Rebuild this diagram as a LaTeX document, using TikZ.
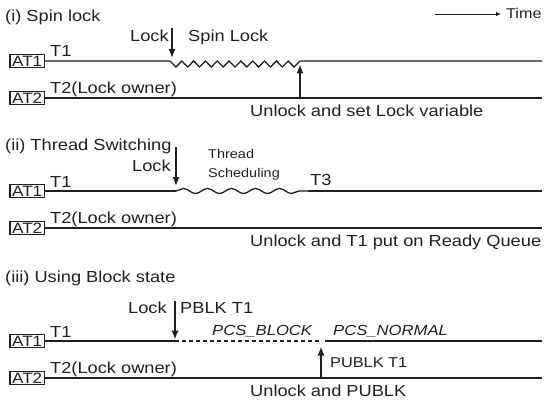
\documentclass[tikz,border=0pt]{standalone}
\usepackage{fontspec}
\setmainfont{Liberation Sans}[FakeStretch=1.14]
\usepackage{tikz}
\usetikzlibrary{arrows.meta, decorations.pathmorphing, positioning}
\definecolor{inkblack}{HTML}{231F20}

\begin{document}
\begin{tikzpicture}[x=1pt,y=-1pt,font=\fontsize{16}{19}\selectfont,color=inkblack,
    tbox/.style={draw,line width=1.1pt,anchor=east,inner xsep=2.2pt,inner ysep=1pt,
      text height=10.8pt,text depth=0pt,font=\fontsize{15}{17}\selectfont},
    tline/.style={line width=1.3pt},
    evarrow/.style={-{Latex[length=9pt,width=7pt]},line width=1.3pt},
    lbl/.style={anchor=base west,inner sep=0pt}]
  \useasboundingbox (0,0) rectangle (544,404);

  % time axis
  \coordinate (t0) at (435,14);
  \coordinate (t1) at (501,14);
  \draw[-{Latex[length=5pt,width=4.5pt]},line width=0.8pt] (t0) -- (t1);
  \node[lbl,font=\fontsize{14.2}{17}\selectfont] (time) at (506,18.5) {Time};

  % the two threads of each case
  \foreach \s/\ya/\yb in {i/61/98,ii/191/228,iii/341/378}{
    \node[tbox] (atA\s) at (45,\ya) {AT1};
    \node[tbox] (atB\s) at (45,\yb) {AT2};
    \node[lbl] (tA\s) at (50,\ya-4) {T1};
    \node[lbl] (tB\s) at (50,\yb-5) {T2(Lock owner)};
    \coordinate (endA\s) at (542,\ya);
    \coordinate (endB\s) at (542,\yb);
    \draw[tline] (atB\s.east) -- (endB\s);
  }

  % (i) spin lock
  \node[lbl] (ttli) at (5,22) {(i) Spin lock};
  \coordinate (lki) at (170,61);
  \coordinate (lkitop) at (172,28);
  \coordinate (uli) at (300,61);
  \coordinate (ulibot) at (300,98);
  \draw[tline] (atAi.east) -- (lki)
    \foreach \k in {1,...,11}{ -- ++(5.909,6) -- ++(5.909,-6)} -- (endAi);
  \draw[evarrow,shorten >=3pt] (lkitop) -- (lkitop|-lki);
  \draw[evarrow,shorten >=3.5pt] (ulibot) -- (uli);
  \node[lbl] (lkti) at (130,42) {Lock};
  \node[lbl] (spin) at (188,42) {Spin Lock};
  \node[lbl] (unli) at (250,116.5) {Unlock and set Lock variable};

  % (ii) thread switching
  \node[lbl] (ttlii) at (5,150) {(ii) Thread Switching};
  \coordinate (lkii) at (176,191);
  \coordinate (lkiitop) at (176,147);
  \coordinate (swii) at (308,191);
  \draw[tline] (atAii.east) -- (lkii);
  \draw[tline,decorate,decoration={snake,amplitude=2.5pt,segment length=24pt}] (lkii) -- (swii);
  \draw[line width=2.8pt] (swii) -- (endAii);
  \draw[evarrow,shorten >=5pt] (lkiitop) -- (lkii);
  \node[lbl] (lktii) at (132,171) {Lock};
  \node[lbl,font=\fontsize{12.7}{15}\selectfont] (thr) at (208,158) {Thread};
  \node[lbl,font=\fontsize{12.7}{15}\selectfont] (sch) at (208,177) {Scheduling};
  \node[lbl] (tthree) at (310,185) {T3};
  \node[lbl] (unlii) at (250,246.5) {Unlock and T1 put on Ready Queue};

  % (iii) using block state
  \node[lbl] (ttliii) at (5,282) {(iii) Using Block state};
  \coordinate (lkiii) at (175,341);
  \coordinate (lkiiitop) at (175,301);
  \coordinate (blkiii) at (321,341);
  \coordinate (nrmiii) at (325,341);
  \coordinate (ubiiibot) at (321,378);
  \draw[tline] (atAiii.east) -- (lkiii);
  \draw[tline,dash pattern=on 4pt off 3pt] (lkiii) -- (blkiii);
  \draw[tline] (nrmiii) -- (endAiii);
  \draw[evarrow,shorten >=1.5pt] (lkiiitop) -- (lkiii);
  \draw[evarrow,shorten >=5.5pt] (ubiiibot) -- (blkiii);
  \node[lbl] (lktiii) at (128,313) {Lock};
  \node[lbl] (pblk) at (180,313) {PBLK T1};
  \node[lbl,font=\fontsize{14.6}{17}\selectfont\itshape] (pcsb) at (212,335) {PCS\_BLOCK};
  \node[lbl,font=\fontsize{14.6}{17}\selectfont\itshape] (pcsn) at (333,335) {PCS\_NORMAL};
  \node[lbl,font=\fontsize{14.3}{17}\selectfont] (publk) at (330,367) {PUBLK T1};
  \node[lbl] (unliii) at (250,396.5) {Unlock and PUBLK};
\end{tikzpicture}
\end{document}
